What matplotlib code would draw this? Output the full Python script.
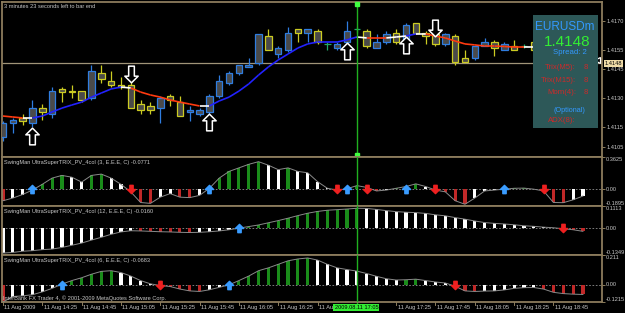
import numpy as np
import matplotlib
matplotlib.use('Agg')
import matplotlib.pyplot as plt
from matplotlib.path import Path
from matplotlib.patches import Rectangle
from matplotlib.collections import LineCollection
from matplotlib.transforms import blended_transform_factory

# ---- data ----
# EURUSDm M5 candles, bar 0 = 11 Aug 2009 14:05
opens  = [1.4110, 1.4117, 1.4120, 1.4117, 1.4125, 1.4122, 1.4135, 1.4134, 1.4134, 1.4130,
          1.4143, 1.4139, 1.4137, 1.4137, 1.4127, 1.4126, 1.4125, 1.4131, 1.4128, 1.4123,
          1.4122, 1.4123, 1.4131, 1.4138, 1.4143, 1.4146, 1.4148, 1.4162, 1.4153, 1.4155,
          1.4166, 1.4164, 1.4165, 1.4158, 1.4156, 1.4159, 1.4166, 1.4165, 1.4156, 1.4159,
          1.4164, 1.4159, 1.4169, 1.4164, 1.4163, 1.4158, 1.4162, 1.4151, 1.4151, 1.4157,
          1.4159, 1.4155, 1.4157, 1.4157, 1.4159]
highs  = [1.4118, 1.4120, 1.4122, 1.4129, 1.4127, 1.4136, 1.4136, 1.4137, 1.4134, 1.4147,
          1.4147, 1.4144, 1.4141, 1.4140, 1.4129, 1.4128, 1.4131, 1.4132, 1.4131, 1.4126,
          1.4125, 1.4132, 1.4142, 1.4144, 1.4147, 1.4151, 1.4163, 1.4166, 1.4157, 1.4167,
          1.4166, 1.4166, 1.4166, 1.4159, 1.4159, 1.4170, 1.4167, 1.4166, 1.4163, 1.4165,
          1.4166, 1.4169, 1.4169, 1.4165, 1.4166, 1.4164, 1.4163, 1.4155, 1.4157, 1.4161,
          1.4160, 1.4159, 1.4160, 1.4158, 1.4160]
lows   = [1.4108, 1.4112, 1.4116, 1.4115, 1.4119, 1.4120, 1.4128, 1.4130, 1.4128, 1.4129,
          1.4138, 1.4136, 1.4135, 1.4125, 1.4122, 1.4122, 1.4117, 1.4126, 1.4121, 1.4118,
          1.4121, 1.4122, 1.4130, 1.4137, 1.4142, 1.4146, 1.4147, 1.4155, 1.4151, 1.4154,
          1.4159, 1.4159, 1.4158, 1.4155, 1.4155, 1.4158, 1.4164, 1.4156, 1.4156, 1.4158,
          1.4158, 1.4158, 1.4163, 1.4158, 1.4157, 1.4157, 1.4147, 1.4149, 1.4150, 1.4157,
          1.4152, 1.4155, 1.4155, 1.4156, 1.4154]
closes = [1.4117, 1.4119, 1.4118, 1.4125, 1.4123, 1.4134, 1.4133, 1.4133, 1.4129, 1.4144,
          1.4140, 1.4137, 1.4136, 1.4125, 1.4124, 1.4124, 1.4130, 1.4129, 1.4121, 1.4124,
          1.4124, 1.4131, 1.4139, 1.4143, 1.4147, 1.4147, 1.4163, 1.4155, 1.4156, 1.4164,
          1.4164, 1.4166, 1.4159, 1.4158, 1.4158, 1.4165, 1.4166, 1.4157, 1.4159, 1.4163,
          1.4159, 1.4168, 1.4164, 1.4162, 1.4158, 1.4163, 1.4149, 1.4149, 1.4157, 1.4159,
          1.4156, 1.4158, 1.4155, 1.4157, 1.4155]

# moving average and its trend state per segment (R=down, B=up, W=turn)
ma = [1.41208, 1.41203, 1.41198, 1.41198, 1.41208, 1.41229, 1.41249, 1.41265, 1.41280, 1.41306,
      1.41327, 1.41348, 1.41358, 1.41353, 1.41332, 1.41317, 1.41306, 1.41291, 1.41280, 1.41270,
      1.41260, 1.41260, 1.41286, 1.41306, 1.41337, 1.41374, 1.41420, 1.41462, 1.41498, 1.41529,
      1.41560, 1.41581, 1.41591, 1.41591, 1.41591, 1.41602, 1.41617, 1.41612, 1.41612, 1.41612,
      1.41617, 1.41622, 1.41633, 1.41633, 1.41622, 1.41612, 1.41596, 1.41581, 1.41576, 1.41570,
      1.41570, 1.41568, 1.41565, 1.41565, 1.41565]
ma_state = "RRWBBBBBBBBBWRRRRRRRWBBBBBBBBBBBBBBBWRRWWBWRRRRRRRRRRW"

sig_up_bars = [3, 21, 35, 41]
sig_up_price = [1.41107, 1.41177, 1.41547, 1.41578]
sig_dn_bars = [13, 44]
sig_dn_price = [1.41423, 1.41666]

bid = 1.4148
price_ticks = [1.4170, 1.4155, 1.4145, 1.4130, 1.4115, 1.4105]

# TRIX histograms (3 / 12 / 6)
trix3 = [-0.13, -0.10, -0.06, -0.01, 0.055, 0.125, 0.155, 0.135, 0.08, 0.155,
         0.17, 0.125, 0.055, -0.03, -0.15, -0.16, -0.09, -0.05, -0.09, -0.095,
         -0.07, 0.01, 0.125, 0.20, 0.24, 0.28, 0.31, 0.27, 0.22, 0.24,
         0.20, 0.185, 0.085, 0.01, -0.01, 0.005, 0.04, 0.02, -0.02, -0.01,
         0.01, 0.03, 0.06, 0.03, -0.01, -0.03, -0.13, -0.17, -0.10, -0.02,
         -0.01, 0.0, 0.01, 0.012, 0.0, -0.02, -0.15, -0.152, -0.12, -0.0771]
trix12 = [-0.125, -0.122, -0.116, -0.113, -0.108, -0.105, -0.097, -0.086, -0.075, -0.060,
          -0.046, -0.031, -0.019, -0.013, -0.014, -0.016, -0.018, -0.019, -0.021, -0.022,
          -0.021, -0.018, -0.014, -0.008, 0.0, 0.008, 0.016, 0.027, 0.038, 0.05,
          0.063, 0.075, 0.084, 0.09, 0.093, 0.096, 0.1, 0.099, 0.094, 0.088,
          0.083, 0.08, 0.078, 0.074, 0.067, 0.062, 0.053, 0.045, 0.036, 0.028,
          0.024, 0.021, 0.017, 0.012, 0.009, 0.005, 0.002, -0.003, -0.008, -0.0160]
trix6 = [-0.1215, -0.083, -0.078, -0.07, -0.05, -0.025, 0.005, 0.03, 0.05, 0.075,
         0.095, 0.1, 0.087, 0.062, 0.03, 0.007, -0.005, -0.012, -0.03, -0.043,
         -0.047, -0.035, -0.018, 0.0, 0.03, 0.062, 0.1, 0.12, 0.145, 0.17,
         0.183, 0.19, 0.175, 0.145, 0.12, 0.108, 0.097, 0.08, 0.06, 0.043,
         0.034, 0.036, 0.04, 0.03, 0.02, 0.013, -0.01, -0.043, -0.047, -0.044,
         -0.043, -0.036, -0.025, -0.02, -0.019, -0.03, -0.053, -0.062, -0.066, -0.0683]
trix_prev = [-0.12, -0.128, -0.11]          # value of the bar before the window
trix_range = [(-0.1895, 0.3625), (-0.1349, 0.1113), (-0.1215, 0.211)]
trix_title = ["SwingMan UltraSuperTRIX_PV_4col (3, E.E.E, C) -0.0771",
              "SwingMan UltraSuperTRIX_PV_4col (12, E.E.E, C) -0.0160",
              "SwingMan UltraSuperTRIX_PV_4col (6, E.E.E, C) -0.0683"]
trix_up = [[3, 21, 35, 41, 51], [24], [6, 23]]
trix_dn = [[13, 34, 37, 44, 55], [57], [16, 46]]
trix_rng_lbl = [("0.3625", "-0.1895"), ("0.1113", "-0.1349"), ("0.211", "-0.1215")]

time_bars = [0, 4, 8, 12, 16, 20, 24, 28, 32, 36, 40, 44, 48, 52, 56]
time_labels = ["11 Aug 2009", "11 Aug 14:25", "11 Aug 14:45", "11 Aug 15:05", "11 Aug 15:25",
               "11 Aug 15:45", "11 Aug 16:05", "11 Aug 16:25", "11 Aug 16:45", "11 Aug 17:05",
               "11 Aug 17:25", "11 Aug 17:45", "11 Aug 18:05", "11 Aug 18:25", "11 Aug 18:45"]
cursor_bar = 36
cursor_label = "2009.08.11 17:05"

# ---- layout ----
W, H = 625, 313
plt.rcParams['font.family'] = ['Liberation Sans', 'DejaVu Sans']
fig = plt.figure(figsize=(6.25, 3.13), dpi=100, facecolor='black')
border = '#8c7c5c'
txtc = '#c8c8c8'
fs = 4.1

def box(x0, y0, x1, y1):
    return [x0 / W, 1 - y1 / H, (x1 - x0) / W, (y1 - y0) / H]

def fy(y):
    return 1 - y / H

xlim = (-0.1, 60.94)

def setup(ax):
    ax.set_facecolor('black')
    ax.set_xlim(*xlim)
    ax.set_xticks([])
    for s in ax.spines.values():
        s.set_color(border)
        s.set_linewidth(1.3)
    ax.yaxis.tick_right()
    ax.tick_params(axis='y', colors=border, labelcolor=txtc, labelsize=fs, length=2, width=0.7, pad=1)

ax = fig.add_axes(box(2, 2, 602, 157))
setup(ax)
ax.set_ylim(1.40996, 1.41798)
ax.set_yticks(price_ticks)
ax.set_yticklabels(['%.4f' % p for p in price_ticks])

# candles
blue_c, yel_c, doji_c = '#2f7de0', '#cccc22', '#22aa66'
for i in range(len(opens)):
    o, h, l, c = opens[i], highs[i], lows[i], closes[i]
    col = blue_c if c > o else (yel_c if c < o else doji_c)
    ax.vlines(i, l, h, color=col, lw=0.9, zorder=2)
    if c == o:
        ax.hlines(o, i - 0.33, i + 0.33, color=col, lw=0.9, zorder=3)
    else:
        ax.add_patch(Rectangle((i - 0.33, min(o, c)), 0.66, abs(c - o),
                               facecolor='#4a4a4a', edgecolor=col, lw=0.9, zorder=3))

# coloured MA
segs = [[(i, ma[i]), (i + 1, ma[i + 1])] for i in range(len(ma) - 1)]
cmap = {'R': '#ff3a10', 'B': '#2222ff', 'W': '#ffffff'}
ax.add_collection(LineCollection(segs, colors=[cmap[s] for s in ma_state], lw=1.2, zorder=4))

# big hollow arrows
up_path = Path([(0, 0.5), (0.4, 0.1), (0.17, 0.1), (0.17, -0.5), (-0.17, -0.5),
                (-0.17, 0.1), (-0.4, 0.1), (0, 0.5)], closed=True)
dn_path = Path([(x, -y) for x, y in up_path.vertices], closed=True)
ax.plot(sig_up_bars, sig_up_price, ls='none', marker=up_path, ms=12,
        mfc='black', mec='white', mew=1.1, zorder=6)
ax.plot(sig_dn_bars, sig_dn_price, ls='none', marker=dn_path, ms=12,
        mfc='black', mec='white', mew=1.1, zorder=6)

ax.axhline(bid, color='#a09478', lw=0.9, zorder=1)
ax.plot(60.4, 1.41498, marker='<', ms=5, mfc='black', mec='white', mew=0.9, clip_on=False, zorder=7)
tr = blended_transform_factory(ax.transAxes, ax.transData)
ax.text(1.004, bid, '%.4f' % bid, transform=tr, fontsize=fs, color='black', va='center', ha='left',
        bbox=dict(boxstyle='square,pad=0.15', fc='#f0dca8', ec='none'), zorder=8)
ax.text(0.004, 0.985, "3 minutes 23 seconds left to bar end", transform=ax.transAxes,
        fontsize=fs, color=txtc, va='top', ha='left')

# cursor line
ax.axvline(cursor_bar, color='#20b020', lw=1, zorder=5)
ax.plot([cursor_bar, cursor_bar], [1.41790, 1.41004], ls='none', marker='s', ms=2.2,
        color='#40ff40', clip_on=False, zorder=7)

# ---- TRIX panels ----
panels = [(157, 206), (206, 255), (255, 302)]
small_up = Path([(0, 0.5), (0.5, 0.0), (0.2, 0.0), (0.2, -0.5), (-0.2, -0.5),
                 (-0.2, 0.0), (-0.5, 0.0), (0, 0.5)], closed=True)
small_dn = Path([(x, -y) for x, y in small_up.vertices], closed=True)
axes_sub = []
for k, vals in enumerate([trix3, trix12, trix6]):
    a = fig.add_axes(box(2, panels[k][0], 602, panels[k][1]))
    setup(a)
    lo, hi = trix_range[k]
    a.set_ylim(lo, hi)
    a.set_yticks([lo, 0, hi])
    a.set_yticklabels([])
    v = np.array(vals)
    prev = np.r_[trix_prev[k], v[:-1]]
    cols = np.where(v >= 0, np.where(v >= prev, '#1a8c1a', 'white'),
                    np.where(v <= prev, '#c02828', 'white'))
    idx = np.arange(len(v))
    a.bar(idx, v, width=0.32, color=cols, zorder=2)
    a.plot(idx, v, color='#8a8a8a', lw=0.7, zorder=3)
    a.axhline(0, color='#909090', lw=0.6, ls=(0, (2, 2)), zorder=1)
    a.plot(trix_up[k], [0] * len(trix_up[k]), ls='none', marker=small_up, ms=6,
           color='#3a9cff', zorder=5)
    a.plot(trix_dn[k], [0] * len(trix_dn[k]), ls='none', marker=small_dn, ms=6,
           color='#ee2020', zorder=5)
    a.axvline(cursor_bar, color='#20b020', lw=1, zorder=4)
    a.text(0.004, 0.93, trix_title[k], transform=a.transAxes, fontsize=fs, color=txtc,
           va='top', ha='left')
    trs = blended_transform_factory(a.transAxes, a.transData)
    a.text(1.006, hi, trix_rng_lbl[k][0], transform=trs, fontsize=fs, color=txtc, va='top')
    a.text(1.006, 0, "0.00", transform=trs, fontsize=fs, color=txtc, va='center')
    a.text(1.006, lo, trix_rng_lbl[k][1], transform=trs, fontsize=fs, color=txtc, va='bottom')
    axes_sub.append(a)

ax3 = axes_sub[-1]
ax3.text(0.002, 0.02, "InterBank FX Trader 4, \u00a9 2001-2009 MetaQuotes Software Corp.",
         transform=ax3.transAxes, fontsize=fs, color=txtc, va='bottom', ha='left', zorder=6)

# time axis
tt = blended_transform_factory(ax3.transData, fig.transFigure)
for b, lbl in zip(time_bars, time_labels):
    ax3.plot([b, b], [fy(302), fy(305)], transform=tt, color=border, lw=0.7, clip_on=False)
    if b != cursor_bar:
        ax3.text(b + 0.15, fy(307.5), lbl, transform=tt, fontsize=fs, color=txtc,
                 va='center', ha='left')
ax3.plot([cursor_bar, cursor_bar], [fy(302), fy(304)], transform=tt, color='#20b020', lw=1, clip_on=False)
ax3.text(cursor_bar - 0.05, fy(307.5), cursor_label, transform=tt, fontsize=fs, color='black',
         va='center', ha='center', zorder=9,
         bbox=dict(boxstyle='square,pad=0.2', fc='#33ee33', ec='none'))

# info panel
fig.add_artist(Rectangle((533 / W, fy(128)), 65 / W, 113 / H, transform=fig.transFigure,
                         facecolor='#2d5858', edgecolor='none', zorder=10))
def info(x, y, s, c, size, ha='center'):
    fig.text(x / W, fy(y), s, color=c, fontsize=size, ha=ha, va='center', zorder=11)
info(565, 27, "EURUSDm", '#3399ff', 8.5)
info(567, 42, "1.4148", '#33ee33', 11)
info(570, 52.5, "Spread: 2", '#3399ff', 5.6)
info(576, 68, "Trix(M5):", '#cc2a2a', 5.6, 'right')
info(576, 80, "Trix(M15):", '#cc2a2a', 5.6, 'right')
info(576, 92, "Mom(4):", '#cc2a2a', 5.6, 'right')
for yy in (68, 80, 92):
    info(586, yy, "8", '#cc2a2a', 5.6)
info(569, 110, "(Optional)", '#3399ff', 5.2)
info(576, 120, "ADX(8):", '#cc2a2a', 5.6, 'right')

fig.savefig('out.png', dpi=100, facecolor='black')
